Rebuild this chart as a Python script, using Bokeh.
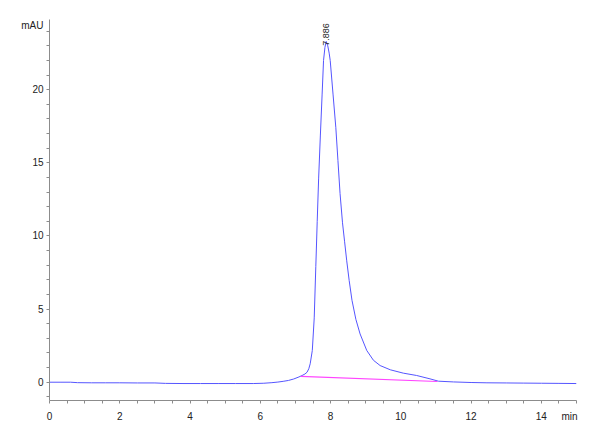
import math
from bokeh.plotting import figure
from bokeh.models import Range1d, FixedTicker, Label
from bokeh.embed import file_html
from bokeh.resources import INLINE

# Chromatogram trace (min, mAU)
time_min = [0.0, 0.3, 0.6, 0.8, 1.2, 1.6, 2.0, 2.5, 3.0, 3.3, 3.8, 4.3, 4.8, 5.3, 5.8, 6.1,
            6.33, 6.5, 6.65, 6.8, 6.95, 7.1, 7.19, 7.27, 7.33, 7.38, 7.42, 7.48, 7.535,
            7.58, 7.62, 7.66, 7.71, 7.76, 7.80, 7.84, 7.876, 7.92, 7.96, 7.99, 8.07, 8.15,
            8.21, 8.27, 8.34, 8.40, 8.46, 8.53, 8.61, 8.72, 8.84, 9.03, 9.22, 9.41, 9.70,
            10.07, 10.45, 10.83, 11.07, 11.5, 12.0, 12.45, 13.0, 13.5, 14.0, 14.5, 15.0]
signal_mau = [0.0, 0.0, 0.0, -0.03, -0.04, -0.04, -0.04, -0.05, -0.05, -0.08, -0.09, -0.09,
              -0.09, -0.09, -0.09, -0.07, -0.03, 0.01, 0.06, 0.12, 0.22, 0.36, 0.46, 0.56,
              0.68, 0.92, 1.26, 2.17, 4.4, 7.9, 11.0, 13.9, 16.9, 19.7, 22.0, 22.9, 23.3,
              23.0, 22.5, 22.0, 19.7, 17.4, 15.15, 12.9, 10.9, 9.6, 8.3, 6.95, 5.6, 4.3,
              3.3, 2.17, 1.5, 1.14, 0.85, 0.62, 0.46, 0.23, 0.07, 0.02, -0.02, -0.04,
              -0.05, -0.06, -0.07, -0.08, -0.09]

# Integration baseline (magenta)
base_time = [7.15, 11.04]
base_mau = [0.40, 0.05]

peak_rt = 7.886
peak_label = "7.886"
peak_top = 23.0

x_ticks = [0, 2, 4, 6, 8, 10, 12, 14]
x_minor = [i * 0.5 for i in range(0, 31)]
x_unit_pos = 14.8
x_unit = "min"
y_ticks = [0, 5, 10, 15, 20]
y_minor = list(range(-1, 25))
y_unit_pos = 24.4
y_unit = "mAU"

FONT = "Liberation Sans"

p = figure(width=592, height=432, output_backend="svg", toolbar_location=None,
           x_range=Range1d(0, 15), y_range=Range1d(-1.25, 24.8),
           min_border_left=49, min_border_right=16, min_border_top=19, min_border_bottom=32)
p.outline_line_color = None
p.xgrid.visible = False
p.ygrid.visible = False
p.background_fill_color = "white"
p.border_fill_color = "white"

for ax in (p.xaxis[0], p.yaxis[0]):
    ax.axis_line_color = "#8c8c8c"
    ax.major_tick_line_color = None
    ax.minor_tick_line_color = "#8c8c8c"
    ax.major_label_text_font = FONT
    ax.major_label_text_font_size = "10px"
    ax.major_label_text_color = "#222222"
    ax.major_tick_in = 0
    ax.minor_tick_in = 0

# Major tick marks are drawn as minor ticks so the unit labels get no tick of their own
p.xaxis.ticker = FixedTicker(ticks=x_ticks + [x_unit_pos], minor_ticks=x_minor)
p.xaxis.major_label_overrides = {x_unit_pos: x_unit}
p.yaxis.ticker = FixedTicker(ticks=y_ticks + [y_unit_pos], minor_ticks=y_minor)
p.yaxis.major_label_overrides = {y_unit_pos: y_unit}
p.xaxis.major_tick_out = 3
p.xaxis.minor_tick_out = 3
p.xaxis.major_label_standoff = 7
p.yaxis.major_tick_out = 4
p.yaxis.minor_tick_out = 3
p.yaxis.major_label_standoff = 2

p.line(time_min, signal_mau, line_color="#5555ff", line_width=1)
p.line(base_time, base_mau, line_color="#ff44ff", line_width=1.2)

p.add_layout(Label(x=peak_rt, y=peak_top, text=peak_label, angle=math.pi / 2,
                   text_align="left", text_baseline="middle", x_offset=-1,
                   text_font=FONT, text_font_size="9px", text_color="#222222"))

open("out.html", "w").write(file_html(p, INLINE))
